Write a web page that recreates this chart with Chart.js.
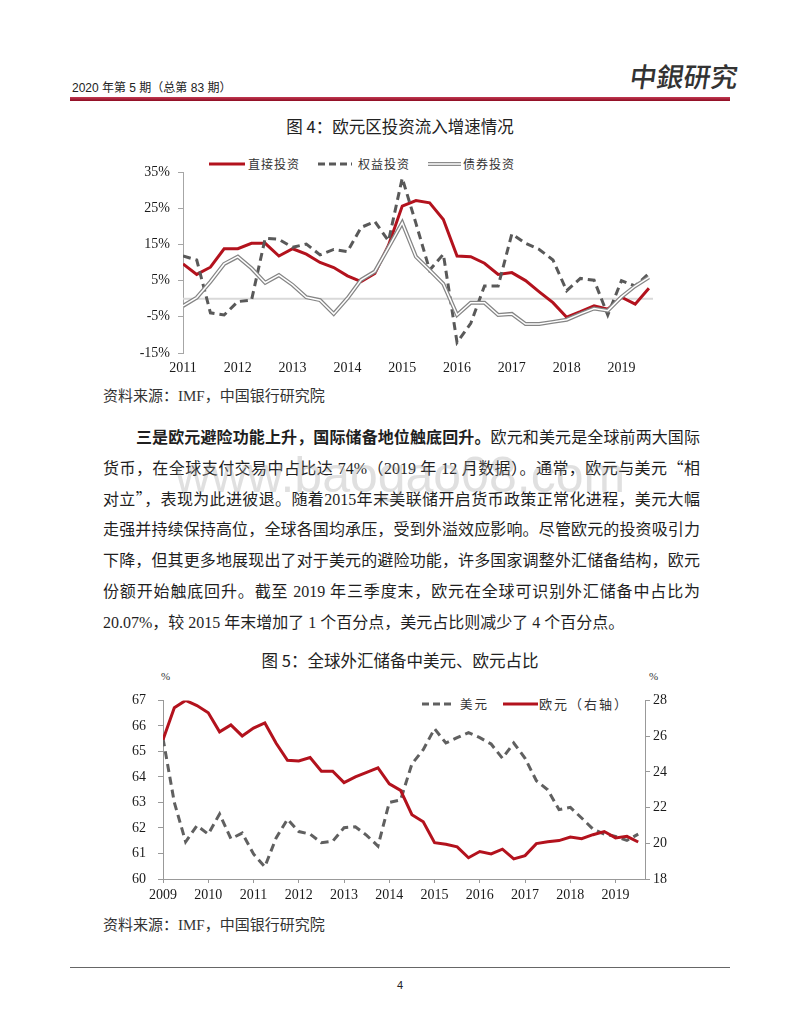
<!DOCTYPE html>
<html><head><meta charset="utf-8">
<script src="https://cdn.jsdelivr.net/npm/chart.js@4/dist/chart.umd.min.js"></script>
<style>
body{margin:0;background:#fff;}
#page{position:relative;width:800px;height:1036px;overflow:hidden;background:#fff;color:#1a1a1a;font-family:'Liberation Serif','Noto Sans CJK SC',serif;}
.a{position:absolute;white-space:nowrap;}
.cjk{font-family:'Noto Sans CJK SC',sans-serif;}
.para{position:absolute;left:103px;width:597px;font-size:16px;line-height:31px;height:31px;text-align:justify;text-align-last:justify;white-space:nowrap;color:#1f1f1f;font-family:'Liberation Serif','Noto Sans CJK SC',serif;}
.lg{position:absolute;font-family:'Noto Sans CJK SC',sans-serif;color:#333;white-space:nowrap;line-height:16px;height:16px;}
canvas{position:absolute;}
</style></head>
<body><div id="page">
<!-- header -->
<div class="a" style="left:72px;top:80px;font-size:12px;line-height:16px;font-family:'Liberation Sans','Noto Sans CJK SC',sans-serif;color:#222;">2020 年第 5 期（总第 83 期）</div>
<div class="a cjk" style="left:630px;top:56px;font-size:27px;line-height:40px;color:#333;letter-spacing:0px;transform:skewX(-8deg);font-weight:500;">中銀研究</div>
<div class="a" style="left:70px;top:97px;width:660px;height:4px;background:linear-gradient(#c23a52,#8e0c22);"></div>

<!-- title 1 -->
<div class="a cjk" style="left:0;width:800px;text-align:center;top:115px;font-size:16.5px;line-height:22px;color:#222;">图 4：欧元区投资流入增速情况</div>

<!-- legend symbols -->
<svg class="a" style="left:0;top:0;" width="800" height="1036">
  <line x1="209" y1="164" x2="245" y2="164" stroke="#b3121d" stroke-width="3"/>
  <line x1="318" y1="164" x2="352" y2="164" stroke="#595959" stroke-width="3" stroke-dasharray="7,4"/>
  <line x1="428" y1="164" x2="461" y2="164" stroke="#8c8c8c" stroke-width="4"/>
  <line x1="428" y1="164" x2="461" y2="164" stroke="#ffffff" stroke-width="1.5"/>
  <line x1="422" y1="704" x2="455" y2="704" stroke="#606060" stroke-width="3" stroke-dasharray="7,4"/>
  <line x1="503" y1="704" x2="538" y2="704" stroke="#b3121d" stroke-width="3"/>
</svg>
<div class="lg" style="left:248px;top:156px;font-size:12px;letter-spacing:1px;">直接投资</div>
<div class="lg" style="left:358px;top:156px;font-size:12px;letter-spacing:1px;">权益投资</div>
<div class="lg" style="left:463px;top:156px;font-size:12px;letter-spacing:1px;">债券投资</div>

<canvas id="c1" width="600" height="230" style="left:100px;top:150px;"></canvas>

<div class="a" style="left:103px;top:386px;font-size:15px;line-height:20px;color:#333;">资料来源：IMF，中国银行研究院</div>

<div class="para" style="top:421px;padding-left:33px;width:564px;"><b class="cjk">三是欧元避险功能上升，国际储备地位触底回升。</b>欧元和美元是全球前两大国际</div>
<div class="para" style="top:452px;">货币，在全球支付交易中占比达 74%（2019 年 12 月数据）。通常，欧元与美元<span class="cjk">“</span>相</div>
<div class="para" style="top:483px;">对立<span class="cjk">”</span>，表现为此进彼退。随着2015年末美联储开启货币政策正常化进程，美元大幅</div>
<div class="para" style="top:514px;">走强并持续保持高位，全球各国均承压，受到外溢效应影响。尽管欧元的投资吸引力</div>
<div class="para" style="top:545px;">下降，但其更多地展现出了对于美元的避险功能，许多国家调整外汇储备结构，欧元</div>
<div class="para" style="top:576px;">份额开始触底回升。截至 2019 年三季度末，欧元在全球可识别外汇储备中占比为</div>
<div class="para" style="top:607px;text-align-last:left;">20.07%，较 2015 年末增加了 1 个百分点，美元占比则减少了 4 个百分点。</div>

<div class="a" style="left:0;width:800px;text-align:center;top:447px;font-size:50px;line-height:56px;font-family:'Liberation Sans',sans-serif;color:rgba(160,160,160,0.32);">www.baogao08.com</div>

<!-- title 2 -->
<div class="a cjk" style="left:0;width:800px;text-align:center;top:649px;font-size:16.5px;line-height:22px;color:#222;">图 5：全球外汇储备中美元、欧元占比</div>
<div class="a" style="left:161px;top:669px;font-size:11px;line-height:14px;color:#333;">%</div>
<div class="a" style="left:649px;top:669px;font-size:11px;line-height:14px;color:#333;">%</div>
<div class="lg" style="left:460px;top:696px;font-size:12.5px;letter-spacing:2px;">美元</div>
<div class="lg" style="left:539px;top:696px;font-size:13px;letter-spacing:2px;">欧元（右轴）</div>

<canvas id="c2" width="600" height="230" style="left:100px;top:680px;"></canvas>

<div class="a" style="left:103px;top:915px;font-size:15px;line-height:20px;color:#333;">资料来源：IMF，中国银行研究院</div>

<div class="a" style="left:70px;top:967px;width:660px;height:1px;background:#666;"></div>
<div class="a" style="left:0;width:800px;text-align:center;top:978px;font-size:11px;line-height:14px;font-family:'Liberation Sans',sans-serif;color:#222;">4</div>
</div>

<script>
// ---- Chart 1: 欧元区投资流入增速 (quarterly, 2011Q1-2019Q3), %
const years1 = ['2011','2012','2013','2014','2015','2016','2017','2018','2019'];
const directInv = [9.6,6.7,8.7,13.8,13.8,15.3,15.3,11.8,13.8,12.3,10.0,8.6,6.3,4.7,7.0,14.8,25.6,27.1,26.5,21.9,11.8,11.6,9.8,6.7,7.2,5.0,1.9,-1.1,-5.1,-3.6,-2.0,-2.9,0.4,-1.5,2.9];
const equityInv = [11.8,10.7,-3.9,-4.5,-0.8,-0.4,16.7,16.4,14.2,15.1,12.1,13.6,13.0,19.7,21.3,16.0,33.3,20.8,7.9,12.3,-12.1,-6.8,3.5,3.5,17.9,15.3,13.6,10.7,2.2,5.6,5.1,-4.5,5.0,3.5,7.0];
const bondInv = [-2.0,0.3,4.7,9.6,11.6,8.4,4.4,6.5,3.8,0.4,-0.4,-4.2,0.1,5.2,7.5,14.2,21.0,11.6,7.9,4.1,-4.5,-1.1,-1.1,-4.5,-4.2,-7.0,-7.0,-6.4,-5.8,-4.2,-2.7,-3.3,0.5,3.5,5.9];
const seriesNames1 = ['直接投资','权益投资','债券投资'];

// ---- Chart 2: 全球外汇储备中美元、欧元占比 (quarterly, 2009Q1-2019Q3), %
const years2 = ['2009','2010','2011','2012','2013','2014','2015','2016','2017','2018','2019'];
const usdShare = [65.51,63.0,61.46,62.09,61.76,62.55,61.58,61.8,60.98,60.48,61.61,62.34,61.86,61.76,61.42,61.48,62.01,62.05,61.71,61.29,63.0,63.1,64.51,65.07,65.89,65.33,65.54,65.74,65.54,65.29,64.73,65.33,64.73,63.85,63.5,62.72,62.81,62.39,61.96,61.76,61.67,61.51,61.76];
const eurShare = [25.79,27.59,28.0,27.71,27.31,26.24,26.63,26.01,26.45,26.74,25.6,24.65,24.61,24.8,24.04,24.04,23.4,23.72,23.97,24.22,23.33,22.96,21.6,21.2,20.03,19.94,19.8,19.19,19.54,19.4,19.67,19.13,19.31,19.98,20.08,20.15,20.35,20.26,20.48,20.66,20.3,20.39,20.07];
const seriesNames2 = ['美元','欧元（右轴）'];

const toXY = arr => arr.map((v,i)=>({x:i,y:v}));
const tickFont = {family:"'Liberation Serif','Times New Roman',serif", size:14};
const txt = '#1a1a1a';

const zeroLine = {id:'zeroLine', beforeDatasetsDraw(chart){
  const {ctx, chartArea:a, scales:{y}} = chart;
  const py = y.getPixelForValue(0);
  ctx.save(); ctx.strokeStyle='#d9d9d9'; ctx.lineWidth=2;
  ctx.beginPath(); ctx.moveTo(a.left,py); ctx.lineTo(a.right,py); ctx.stroke(); ctx.restore();
}};

new Chart(document.getElementById('c1'), {
  type:'line',
  data:{datasets:[
    {label:seriesNames1[0], data:toXY(directInv), borderColor:'#b3121d', borderWidth:3, order:3},
    {label:seriesNames1[1], data:toXY(equityInv), borderColor:'#595959', borderWidth:3, borderDash:[8,5], order:2},
    {label:seriesNames1[2], data:toXY(bondInv), borderColor:'#858585', borderWidth:4, order:1},
    {label:seriesNames1[2]+'-core', data:toXY(bondInv), borderColor:'#ffffff', borderWidth:1.5, order:0}
  ]},
  options:{
    responsive:false, animation:false, devicePixelRatio:1,
    elements:{point:{radius:0}, line:{tension:0}},
    layout:{padding:{left:0,right:47,top:22,bottom:7}},
    plugins:{legend:{display:false}, tooltip:{enabled:false}},
    scales:{
      x:{type:'linear', min:0, max:34.3,
         afterBuildTicks:s=>{s.ticks = years1.map((y,i)=>({value:i*4}));},
         afterFit:s=>{s.height=20;},
         grid:{display:false, drawTicks:false}, border:{display:false},
         ticks:{font:tickFont, color:txt, padding:7, maxRotation:0, autoSkip:false, callback:v=>years1[v/4]}},
      y:{min:-15, max:35,
         afterFit:s=>{s.width=83;},
         grid:{color:'rgba(0,0,0,0)', drawTicks:true, tickLength:5, tickColor:'#a6a6a6'},
         border:{display:true, color:'#a6a6a6', width:1},
         ticks:{stepSize:10, font:tickFont, color:txt, padding:8, callback:v=>v+'%'}}
    }
  },
  plugins:[zeroLine]
});

new Chart(document.getElementById('c2'), {
  type:'line',
  data:{datasets:[
    {label:seriesNames2[0], data:toXY(usdShare), yAxisID:'y', borderColor:'#606060', borderWidth:3, borderDash:[8,5], order:2},
    {label:seriesNames2[1], data:toXY(eurShare), yAxisID:'y1', borderColor:'#b3121d', borderWidth:3, order:1}
  ]},
  options:{
    responsive:false, animation:false, devicePixelRatio:1,
    elements:{point:{radius:0}, line:{tension:0}},
    layout:{padding:{left:0,right:0,top:14,bottom:0}},
    plugins:{legend:{display:false}, tooltip:{enabled:false}},
    scales:{
      x:{type:'linear', min:0, max:42.6,
         afterBuildTicks:s=>{s.ticks = years2.map((y,i)=>({value:i*4}));},
         afterFit:s=>{s.height=31;},
         grid:{drawOnChartArea:false, drawTicks:true, tickLength:4, tickColor:'#999'},
         border:{display:true, color:'#999'},
         ticks:{font:tickFont, color:txt, padding:4, maxRotation:0, autoSkip:false, callback:v=>years2[v/4]}},
      y:{position:'left', min:60, max:67,
         afterFit:s=>{s.width=63;},
         grid:{drawOnChartArea:false, tickLength:5, tickColor:'#999'},
         border:{display:true, color:'#999'},
         ticks:{stepSize:1, font:tickFont, color:txt, padding:12}},
      y1:{position:'right', min:18, max:28,
         afterFit:s=>{s.width=55;},
         grid:{drawOnChartArea:false, tickLength:5, tickColor:'#999'},
         border:{display:true, color:'#999'},
         ticks:{stepSize:2, font:tickFont, color:txt, padding:3}}
    }
  }
});
</script>
</body></html>
